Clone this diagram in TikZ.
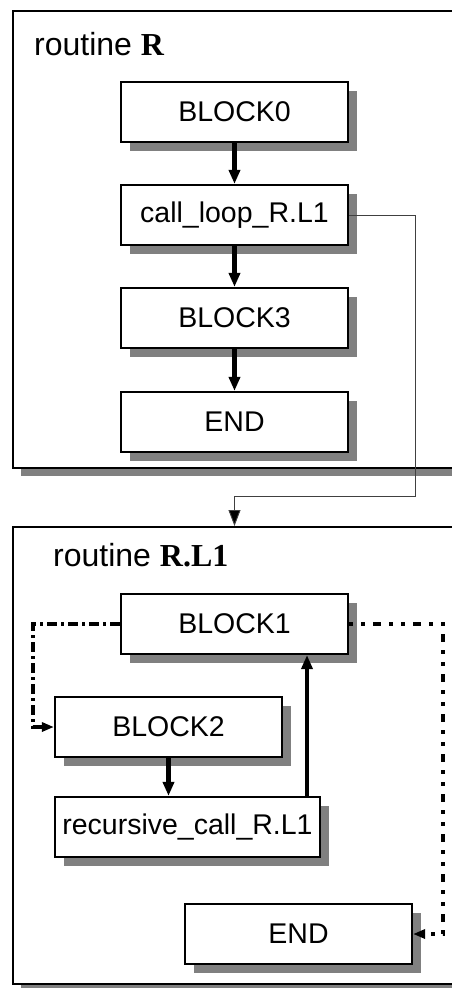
\documentclass[tikz,border=0pt]{standalone}
\usepackage{fontspec}
\setmainfont{Liberation Sans}
\newfontfamily\titleserif{Liberation Serif}
\usetikzlibrary{arrows.meta,shadows}

\tikzset{
  frame/.style={draw, line width=2pt, fill=white, inner sep=0pt,
    drop shadow={shadow xshift=8pt, shadow yshift=-8pt, fill=black!50, opacity=1}},
  blk/.style={draw, line width=2.2pt, fill=white, inner sep=0pt,
    minimum width=227pt, minimum height=60pt,
    font=\fontsize{28.5}{34}\selectfont,
    drop shadow={shadow xshift=9pt, shadow yshift=-9pt, fill=black!50, opacity=1}},
  ttl/.style={anchor=base west, inner sep=0pt, font=\fontsize{32}{38}\selectfont},
  flow/.style={line width=4.5pt, -{Triangle[length=14pt,width=11pt]}},
  call/.style={line width=0.9pt, draw=black!75, -{Triangle[length=16pt,width=12pt,fill=black]}},
  dashdot/.style={line width=4pt, dash pattern=on 10pt off 4pt on 3pt off 4pt,
    -{Triangle[length=12pt,width=9pt]}},
  dotline/.style={line width=4pt, dash pattern=on 4pt off 8pt on 4pt off 8pt on 8pt off 8pt,
    -{Triangle[length=12pt,width=9pt]}}
}

\begin{document}
\begin{tikzpicture}[x=1pt, y=-1pt]
\useasboundingbox (0,0) rectangle (452,988);
\clip (0,0) rectangle (452,988);
\fill[white] (0,0) rectangle (452,988);

% routine R
\node[frame, minimum width=470pt, minimum height=457pt, anchor=north west] (Rframe) at (12,10) {};
\node[ttl] (Rtitle) at (34,55) {routine {\titleserif\bfseries R}};
\node[blk] (B0) at (234.5,112) {BLOCK0};
\node[blk] (CL) at (234.5,215) {call\_loop\_R.L1};
\node[blk] (B3) at (234.5,318) {BLOCK3};
\node[blk] (E1) at (234.5,422) {END};
\draw[flow] (B0) -- (CL);
\draw[flow] (CL) -- (B3);
\draw[flow] (B3) -- (E1);

% routine R.L1
\node[frame, minimum width=470pt, minimum height=457pt, anchor=north west] (Lframe) at (12,526) {};
\node[ttl] (Ltitle) at (53,566) {routine {\titleserif\bfseries R.L1}};
\node[blk] (B1) at (234.5,624) {BLOCK1};
\node[blk] (B2) at (168.5,727) {BLOCK2};
\node[blk, minimum width=265pt] (RC) at (187.5,827) {recursive\_call\_R.L1};
\node[blk] (E2) at (298.5,934) {END};
\draw[flow] (B2.south) -- (B2.south |- RC.north);
\draw[flow] (RC.north -| 307,0) -- (B1.south -| 307,0);

% loop exits
\coordinate (ddcorner) at (33,624);
\draw[dashdot] (B1.west) -- (ddcorner) |- (B2.west);
\coordinate (dotcorner) at (443,624);
\draw[dotline] (B1.east) -- (dotcorner) |- (E2.east);

% call from R into R.L1
\coordinate (callbend) at (415,496);
\draw[call] (CL.east) -| (callbend) -| (B0 |- Lframe.north);
\end{tikzpicture}
\end{document}
